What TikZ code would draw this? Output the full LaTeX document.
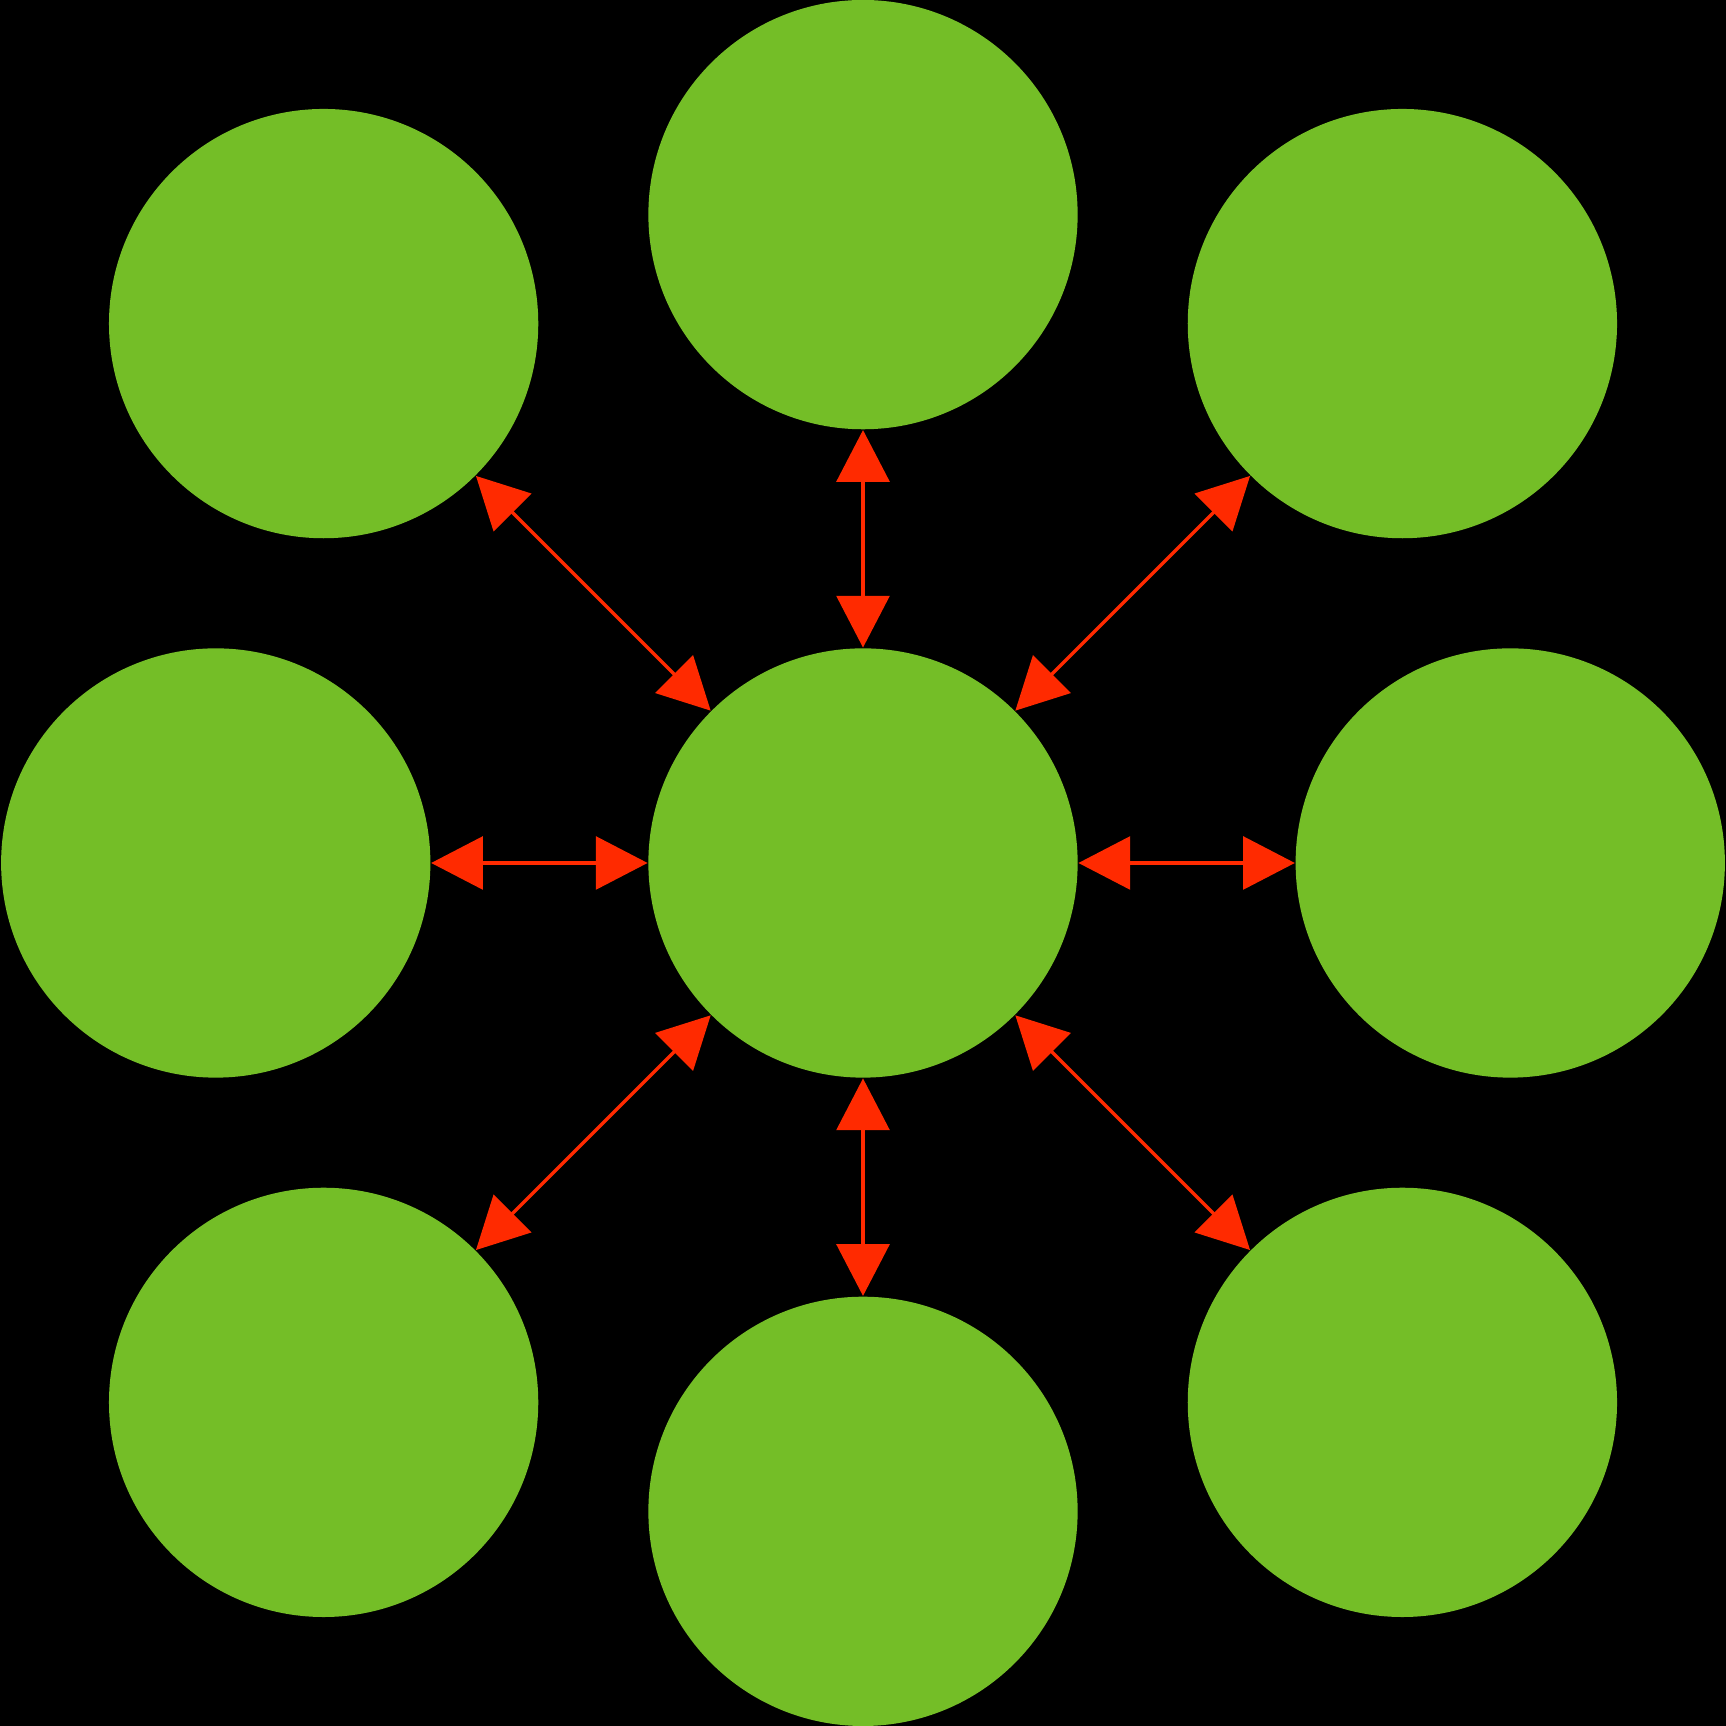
\documentclass[tikz,border=0pt]{standalone}
\usetikzlibrary{arrows.meta}
\definecolor{leaf}{RGB}{116,190,39}
\definecolor{arrowred}{RGB}{255,42,0}
\begin{document}
\begin{tikzpicture}[
  ball/.style={circle, fill=leaf, draw=none, inner sep=0pt, minimum size=3.9cm},
  link/.style={draw=arrowred, line width=0.03cm, {Triangle[length=0.47cm,width=0.48cm]}-{Triangle[length=0.47cm,width=0.48cm]}}
]
\fill[black] (0,0) rectangle (15.68,15.68);
\useasboundingbox (0,0) rectangle (15.68,15.68);
\node[ball] (c)  at (7.84,7.84) {};
\node[ball] (n)  at (7.84,13.73) {};
\node[ball] (s)  at (7.84,1.95) {};
\node[ball] (w)  at (1.96,7.84) {};
\node[ball] (e)  at (13.72,7.84) {};
\node[ball] (nw) at (2.94,12.74) {};
\node[ball] (ne) at (12.74,12.74) {};
\node[ball] (sw) at (2.94,2.94) {};
\node[ball] (se) at (12.74,2.94) {};
\foreach \o in {n,s,w,e,nw,ne,sw,se}
  \draw[link] (\o) -- (c);
\end{tikzpicture}
\end{document}
